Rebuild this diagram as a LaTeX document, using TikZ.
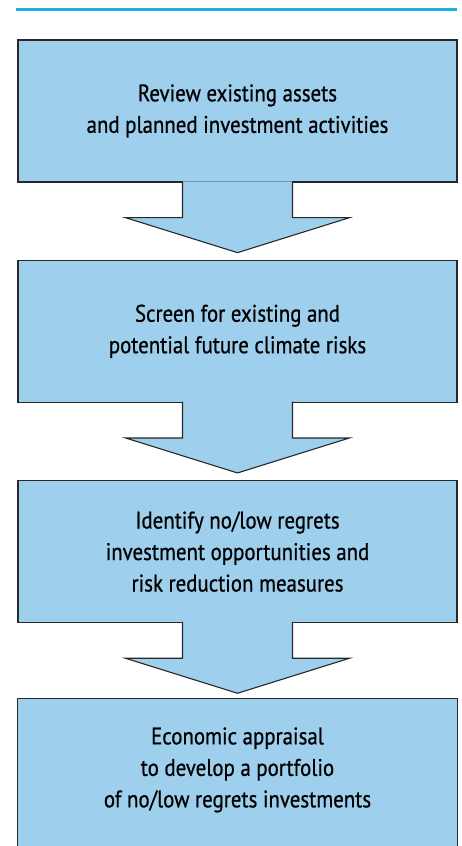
\documentclass[tikz,border=0pt]{standalone}
\usepackage{fontspec}
\setmainfont{PT Sans}[FakeStretch=0.87,FakeBold=0.7]
\usepackage{tikz}
\usepackage{xcolor}
\usetikzlibrary{positioning,calc}
\usetikzlibrary{backgrounds}

\definecolor{boxblue}{RGB}{158,208,238}
\definecolor{rulecyan}{RGB}{30,174,228}
\definecolor{edgegray}{RGB}{40,40,40}

\begin{document}
\begin{tikzpicture}[node distance=77pt,line join=miter,
    step node/.style={rectangle,draw=edgegray,fill=boxblue,line width=1.3pt,
      minimum width=439pt,minimum height=142pt,align=center,
      font=\fontsize{24}{31.5}\selectfont,text=black},
    arrow edge/.style={fill=boxblue,draw=edgegray,line width=1.1pt}]

  \clip (0,0) rectangle (462pt,-846pt);
  \draw[rulecyan,line width=2.2pt] (16pt,-9.5pt) -- (457pt,-9.5pt);

  \node[step node] (review) at (237.5pt,-111pt) {Review existing assets\\and planned investment activities};
  \node[step node] (screen) [below=of review] {Screen for existing and\\potential future climate risks};
  \node[step node] (identify) [below=of screen] {Identify no/low regrets\\investment opportunities and\\risk reduction measures};
  \node[step node,draw=none,fill=none] (appraisal) [below=75pt of identify] {Economic appraisal\\to develop a portfolio\\of no/low regrets investments};

  % last box runs off the page
  \begin{scope}[on background layer]
    \draw[draw=edgegray,fill=boxblue,line width=1.3pt] (appraisal.north west) rectangle ($(appraisal.south east)+(0,-40pt)$);
  \end{scope}

  \foreach \a/\b in {review/screen,screen/identify,identify/appraisal}{
    \coordinate (h) at ($(\a.south)!35pt!(\b.north)$);
    \coordinate (t) at ($(\a.south)!70pt!(\b.north)$);
    \path[arrow edge] ($(\a.south)+(-55pt,1.3pt)$) -- ($(h)+(-55pt,0)$) -- ($(h)+(-112pt,0)$)
      -- (t) -- ($(h)+(112pt,0)$) -- ($(h)+(55pt,0)$) -- ($(\a.south)+(55pt,1.3pt)$);
  }
\end{tikzpicture}
\end{document}
